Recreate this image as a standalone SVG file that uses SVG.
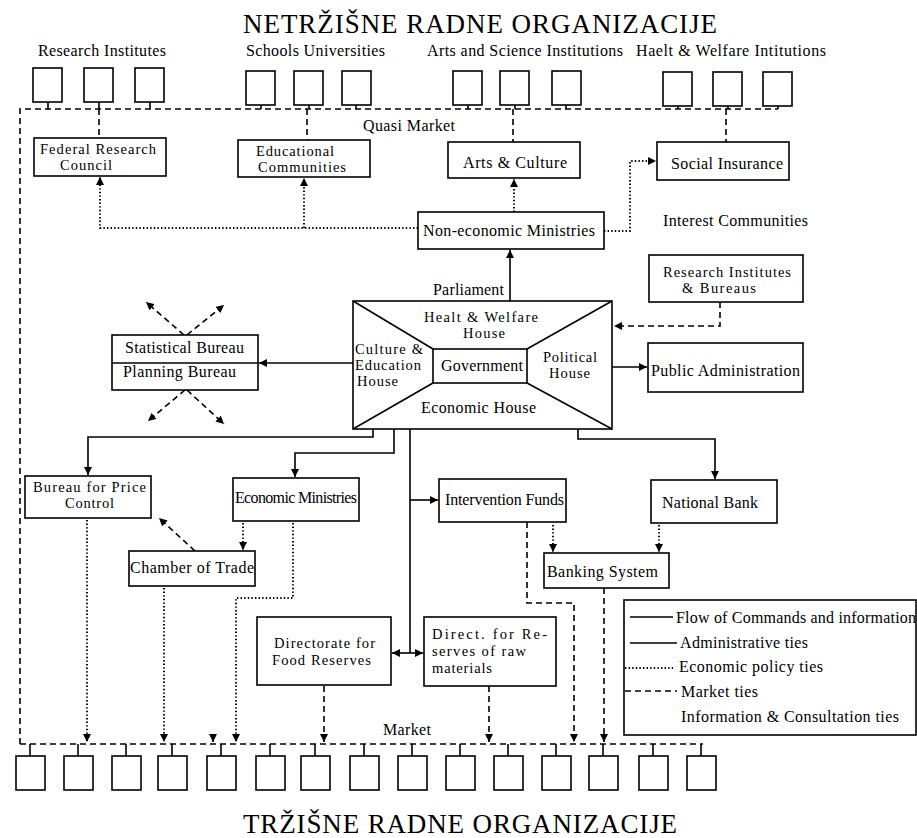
<svg xmlns="http://www.w3.org/2000/svg" width="917" height="838" viewBox="0 0 917 838">
<style>
.t{font-family:"Liberation Serif","Times New Roman",serif;font-size:16px;fill:#000}
.m{font-family:"Liberation Serif","Times New Roman",serif;font-size:14.5px;fill:#000}
.h{font-family:"Liberation Serif","Times New Roman",serif;font-size:27px;fill:#000}
.b{fill:#fff;stroke:#000;stroke-width:1.6}
.s{fill:none;stroke:#000;stroke-width:1.6}
.d{fill:none;stroke:#000;stroke-width:1.6;stroke-dasharray:6 4}
.o{fill:none;stroke:#000;stroke-width:1.9;stroke-dasharray:1.4 2.2}
.a{marker-end:url(#ah)}
</style>
<defs>
<marker id="ah" viewBox="0 0 10 10" refX="10" refY="5" markerWidth="8" markerHeight="8" markerUnits="userSpaceOnUse" orient="auto-start-reverse"><path d="M0,0L10,5L0,10z" fill="#000"/></marker>
<rect id="sb" width="29" height="34" class="b"/>
</defs>
<rect width="917" height="838" fill="#fff"/>

<g id="titles">
<text class="h" x="243" y="33" textLength="474">NETRŽIŠNE RADNE ORGANIZACIJE</text>
<text class="h" x="243" y="833" textLength="434">TRŽIŠNE RADNE ORGANIZACIJE</text>
<text class="t" x="38" y="56" textLength="128">Research Institutes</text>
<text class="t" x="246" y="56" textLength="139">Schools Universities</text>
<text class="t" x="427" y="56" textLength="196">Arts and Science Institutions</text>
<text class="t" x="636" y="56" textLength="190">Haelt &amp; Welfare Intitutions</text>
<text class="t" x="363" y="131" textLength="92">Quasi Market</text>
<text class="t" x="663" y="226" textLength="145">Interest Communities</text>
<text class="t" x="433" y="295" textLength="71">Parliament</text>
<text class="t" x="383" y="735" textLength="48">Market</text>
</g>

<g id="top-organizations">
<use href="#sb" x="33" y="68"/><use href="#sb" x="84" y="68"/><use href="#sb" x="135" y="68"/>
<use href="#sb" x="246" y="71"/><use href="#sb" x="294" y="71"/><use href="#sb" x="342" y="71"/>
<use href="#sb" x="453" y="71"/><use href="#sb" x="500" y="71"/><use href="#sb" x="552" y="71"/>
<use href="#sb" x="663" y="72"/><use href="#sb" x="713" y="72"/><use href="#sb" x="763" y="72"/>
</g>

<g id="bottom-organizations">
<use href="#sb" x="16" y="756"/><use href="#sb" x="64" y="756"/><use href="#sb" x="112" y="756"/>
<use href="#sb" x="158" y="756"/><use href="#sb" x="207" y="756"/><use href="#sb" x="256" y="756"/>
<use href="#sb" x="301" y="756"/><use href="#sb" x="350" y="756"/><use href="#sb" x="398" y="756"/>
<use href="#sb" x="446" y="756"/><use href="#sb" x="494" y="756"/><use href="#sb" x="542" y="756"/>
<use href="#sb" x="589" y="756"/><use href="#sb" x="639" y="756"/><use href="#sb" x="687" y="756"/>
</g>

<g id="connectors">
<!-- quasi market -->
<path class="d" d="M20,744V109H778"/>
<path class="s" d="M48,102V109M99,102V109M150,102V109M261,105V109M309,105V109M356,105V109M468,105V109M515,105V109M566,105V109M678,106V109M728,106V109M778,106V109"/>
<path class="d" d="M99,109V138M307,109V140M513,109V142M726,109V142"/>
<!-- market -->
<path class="d" d="M20,744H703"/>
<path class="s" d="M30,744V756M78,744V756M126,744V756M172,744V756M221,744V756M270,744V756M315,744V756M364,744V756M412,744V756M460,744V756M508,744V756M556,744V756M603,744V756M653,744V756M701,744V756"/>
<!-- non-economic ministries -->
<path class="o a" d="M418,228H100V177"/>
<path class="o a" d="M304,228V178"/>
<path class="o a" d="M514,212V179"/>
<path class="o a" d="M604,231H630V161H656"/>
<path class="s a" d="M510,301V250"/>
<!-- government -->
<path class="d a" d="M720,302V326H614"/>
<path class="s a" d="M612,367H647"/>
<path class="s a" d="M353,363H259"/>
<path class="d a" d="M184,335L146,302"/>
<path class="d a" d="M187,335L224,305"/>
<path class="d a" d="M185,390L148,421"/>
<path class="d a" d="M187,390L224,424"/>
<path class="s a" d="M373,429V437H88V475"/>
<path class="s a" d="M394,429V453H295V477"/>
<path class="s" d="M410,429V653"/>
<path class="s a" d="M410,500H438"/>
<path class="s a" d="M578,429V439H715V479"/>
<path class="s a" style="marker-start:url(#ah)" d="M392,653H423"/>
<!-- economic -->
<path class="o a" d="M243,523V550"/>
<path class="d a" d="M195,551L159,518"/>
<path class="o a" d="M87,520V742"/>
<path class="o a" d="M164,588V742"/>
<path class="o a" d="M293,523V598H236V742"/>
<path class="s a" d="M213,736V742"/>
<path class="o a" d="M553,525V552"/>
<path class="o a" d="M659,525V552"/>
<path class="d a" d="M527,522V603H574V742"/>
<path class="d a" d="M604,588V742"/>
<path class="d a" d="M324,686V742"/>
<path class="d a" d="M489,686V742"/>
</g>

<g id="federal-research-council"><rect class="b" x="34" y="138" width="132" height="38"/>
<text class="m" x="40" y="154" textLength="116">Federal Research</text><text class="m" x="60" y="170" textLength="52">Council</text></g>
<g id="educational-communities"><rect class="b" x="238" y="140" width="132" height="37"/>
<text class="m" x="256" y="156" textLength="78">Educational</text><text class="m" x="258" y="172" textLength="88">Communities</text></g>
<g id="arts-culture"><rect class="b" x="448" y="142" width="132" height="36"/>
<text class="t" x="463" y="168" textLength="104">Arts &amp; Culture</text></g>
<g id="social-insurance"><rect class="b" x="657" y="142" width="132" height="38"/>
<text class="t" x="671" y="169" textLength="112">Social Insurance</text></g>
<g id="non-economic-ministries"><rect class="b" x="418" y="212" width="186" height="37"/>
<text class="t" x="423" y="236" textLength="172">Non-economic Ministries</text></g>
<g id="research-institutes-bureaus"><rect class="b" x="649" y="255" width="154" height="47"/>
<text class="m" x="663" y="277" textLength="128">Research Institutes</text><text class="m" x="682" y="293" textLength="74">&amp; Bureaus</text></g>
<g id="public-administration"><rect class="b" x="648" y="343" width="155" height="49"/>
<text class="t" x="651" y="376" textLength="149">Public Administration</text></g>

<g id="government-block">
<rect class="b" x="353" y="301" width="259" height="128"/>
<path class="s" d="M353,301L433,349M612,301L527,349M353,429L433,383M612,429L527,383"/>
<rect class="b" x="433" y="349" width="94" height="34"/>
<text class="m" x="424" y="322" textLength="114">Healt &amp; Welfare</text>
<text class="m" x="463" y="338" textLength="42">House</text>
<text class="m" x="355" y="354" textLength="68">Culture &amp;</text>
<text class="m" x="355" y="370" textLength="66">Education</text>
<text class="m" x="357" y="386" textLength="41">House</text>
<text class="t" x="441" y="371" textLength="82">Government</text>
<text class="m" x="543" y="362" textLength="54">Political</text>
<text class="m" x="549" y="378" textLength="41">House</text>
<text class="t" x="421" y="413" textLength="115">Economic House</text>
</g>

<g id="statistical-planning-bureau"><rect class="b" x="112" y="335" width="146" height="55"/>
<path class="s" d="M112,363H258"/>
<text class="t" x="125" y="353" textLength="119">Statistical Bureau</text>
<text class="t" x="123" y="377" textLength="113">Planning Bureau</text></g>

<g id="bureau-price-control"><rect class="b" x="25" y="476" width="126" height="42"/>
<text class="m" x="33" y="492" textLength="113">Bureau for Price</text><text class="m" x="65" y="508" textLength="49">Control</text></g>
<g id="economic-ministries"><rect class="b" x="233" y="478" width="126" height="43"/>
<text class="t" x="235" y="503" textLength="122">Economic Ministries</text></g>
<g id="chamber-of-trade"><rect class="b" x="129" y="551" width="126" height="35"/>
<text class="t" x="130" y="573" textLength="124">Chamber of Trade</text></g>
<g id="intervention-funds"><rect class="b" x="439" y="479" width="127" height="43"/>
<text class="t" x="445" y="505" textLength="119">Intervention Funds</text></g>
<g id="national-bank"><rect class="b" x="651" y="480" width="126" height="43"/>
<text class="t" x="662" y="508" textLength="96">National Bank</text></g>
<g id="banking-system"><rect class="b" x="544" y="553" width="125" height="35"/>
<text class="t" x="547" y="577" textLength="111">Banking System</text></g>
<g id="directorate-food-reserves"><rect class="b" x="257" y="617" width="134" height="68"/>
<text class="m" x="274" y="648" textLength="101">Directorate for</text><text class="m" x="272" y="665" textLength="99">Food Reserves</text></g>
<g id="directorate-raw-materials"><rect class="b" x="424" y="617" width="132" height="69"/>
<text class="m" x="432" y="639" textLength="115">Direct. for Re-</text><text class="m" x="432" y="656" textLength="94">serves of raw</text><text class="m" x="432" y="673" textLength="60">materials</text></g>

<g id="legend">
<rect class="b" x="624" y="600" width="292" height="135"/>
<path class="s" d="M630,617H673M630,643H677"/>
<path class="o" d="M625,668H673"/>
<path class="d" d="M625,691H677"/>
<text class="t" x="676" y="623" textLength="240">Flow of Commands and information</text>
<text class="t" x="680" y="648" textLength="128">Administrative ties</text>
<text class="t" x="679" y="672" textLength="144">Economic policy ties</text>
<text class="t" x="681" y="697" textLength="77">Market ties</text>
<text class="t" x="681" y="722" textLength="218">Information &amp; Consultation ties</text>
</g>
</svg>
